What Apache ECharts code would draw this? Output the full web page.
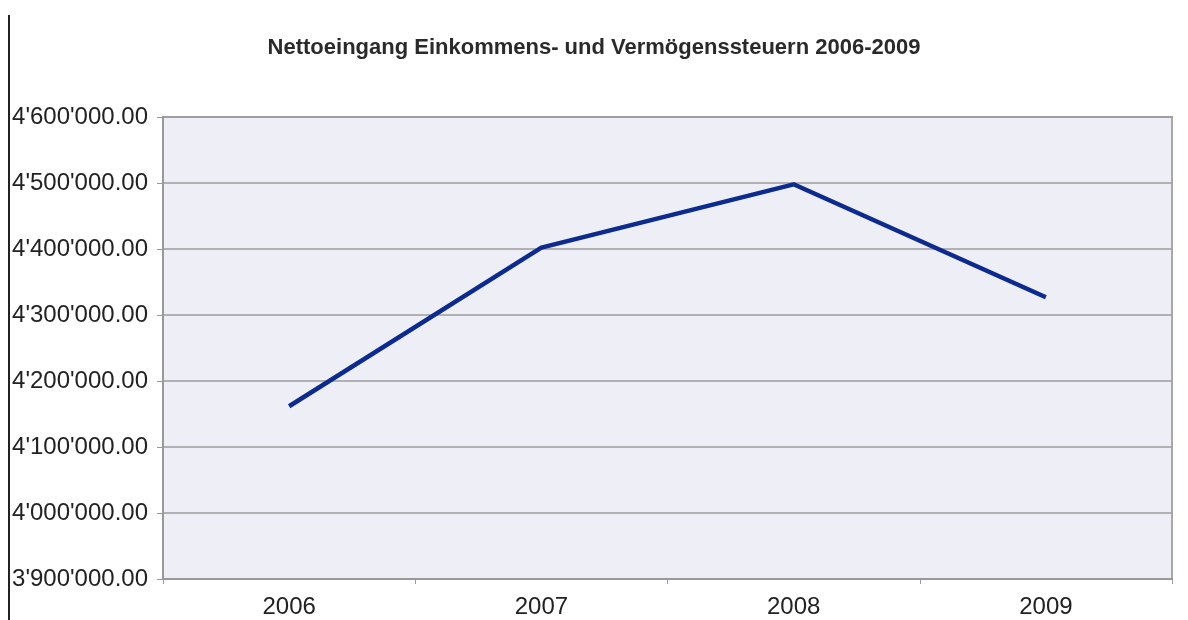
<!DOCTYPE html>
<html>
<head>
<meta charset="utf-8">
<script src="https://cdn.jsdelivr.net/npm/echarts@6/dist/echarts.min.js"></script>
<style>
html,body{margin:0;padding:0;background:#fff;}
#chart{width:1188px;height:620px;}
</style>
</head>
<body>
<div id="chart"></div>
<script>
const titleText = "Nettoeingang Einkommens- und Vermögenssteuern 2006-2009";
const years = ["2006", "2007", "2008", "2009"];
const nettoeingang = [4161700, 4402000, 4498000, 4327000];
const yMin = 3900000, yMax = 4600000, yStep = 100000;

function fmt(v) {
  const s = Math.round(v).toString().replace(/\B(?=(\d{3})+(?!\d))/g, "'");
  return s + ".00";
}

const chart = echarts.init(document.getElementById('chart'));
chart.setOption({
  animation: false,
  backgroundColor: '#ffffff',
  textStyle: { fontFamily: 'Liberation Sans, Arial, sans-serif' },
  title: {
    text: titleText,
    left: 'center',
    top: 32,
    textStyle: { fontSize: 22, fontWeight: 'bold', color: '#2a2a2a', fontFamily: 'Liberation Sans, Arial, sans-serif' }
  },
  grid: {
    left: 163, right: 16, top: 117, bottom: 41,
    show: true,
    backgroundColor: '#EEEEF6',
    borderColor: '#A8A8A8',
    borderWidth: 2
  },
  graphic: [{
    type: 'line',
    shape: { x1: 9, y1: 15, x2: 9, y2: 620 },
    style: { stroke: '#222', lineWidth: 2 }
  }],
  xAxis: {
    type: 'category',
    data: years,
    boundaryGap: true,
    axisLine: { show: true, lineStyle: { color: '#999', width: 2 } },
    axisTick: { show: true, length: 5, lineStyle: { color: '#999' } },
    axisLabel: { fontSize: 24, color: '#222', margin: 16, fontFamily: 'Liberation Sans, Arial, sans-serif' }
  },
  yAxis: {
    type: 'value',
    min: yMin, max: yMax, interval: yStep,
    axisLine: { show: true, lineStyle: { color: '#999', width: 2 } },
    axisTick: { show: true, length: 6, lineStyle: { color: '#999' } },
    splitLine: { show: true, lineStyle: { color: '#9C9C9C', width: 1.5 } },
    axisLabel: { fontSize: 24, color: '#222', margin: 15, formatter: fmt, fontFamily: 'Liberation Sans, Arial, sans-serif' }
  },
  series: [{
    type: 'line',
    data: nettoeingang,
    symbol: 'none',
    lineStyle: { color: '#0D2B8E', width: 4.5 },
    itemStyle: { color: '#0D2B8E' }
  }]
});
</script>
</body>
</html>
